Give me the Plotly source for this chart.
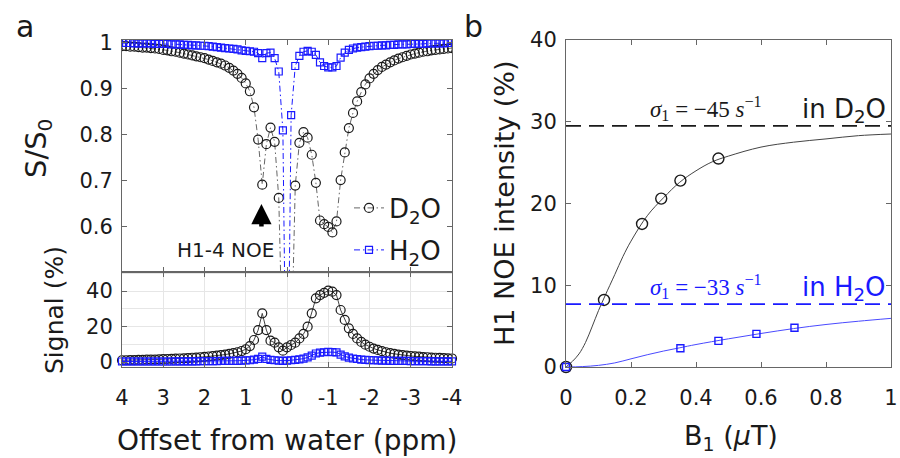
import plotly.graph_objects as go

# ---------------- data ----------------
offsets = [4.0, 3.9, 3.8, 3.7, 3.6, 3.5, 3.4, 3.3, 3.2, 3.1,
           3.0, 2.9, 2.8, 2.7, 2.6, 2.5, 2.4, 2.3, 2.2, 2.1,
           2.0, 1.9, 1.8, 1.7, 1.6, 1.5, 1.4, 1.3, 1.2, 1.1,
           1.0, 0.9, 0.8, 0.7, 0.6, 0.5, 0.4, 0.3, 0.2, 0.1,
           0.0, -0.1, -0.2, -0.3, -0.4, -0.5, -0.6, -0.7, -0.8, -0.9,
           -1.0, -1.1, -1.2, -1.3, -1.4, -1.5, -1.6, -1.7, -1.8, -1.9,
           -2.0, -2.1, -2.2, -2.3, -2.4, -2.5, -2.6, -2.7, -2.8, -2.9,
           -3.0, -3.1, -3.2, -3.3, -3.4, -3.5, -3.6, -3.7, -3.8, -3.9, -4.0]

z_d2o = [0.993, 0.993, 0.992, 0.992, 0.991, 0.990, 0.990, 0.989, 0.988, 0.987,
         0.985, 0.984, 0.982, 0.981, 0.979, 0.977, 0.975, 0.973, 0.971, 0.969,
         0.967, 0.964, 0.961, 0.958, 0.955, 0.951, 0.946, 0.940, 0.933, 0.924,
         0.912, 0.895, 0.860, 0.790, 0.692, 0.780, 0.816, 0.785, 0.663, 0.30,
         0.05, 0.30, 0.690, 0.783, 0.806, 0.794, 0.757, 0.696, 0.614, 0.606,
         0.600, 0.588, 0.612, 0.702, 0.762, 0.815, 0.848, 0.873, 0.893, 0.910,
         0.923, 0.933, 0.941, 0.948, 0.953, 0.958, 0.962, 0.966, 0.969, 0.972,
         0.975, 0.977, 0.979, 0.981, 0.982, 0.984, 0.985, 0.986, 0.987, 0.988, 0.989]

z_h2o = [1.000, 1.000, 1.000, 0.999, 0.999, 0.999, 0.999, 0.999, 0.998, 0.998,
         0.998, 0.998, 0.997, 0.997, 0.997, 0.996, 0.996, 0.995, 0.995, 0.994,
         0.994, 0.993, 0.992, 0.991, 0.990, 0.989, 0.988, 0.987, 0.986, 0.984,
         0.983, 0.982, 0.981, 0.978, 0.967, 0.978, 0.979, 0.967, 0.938, 0.810,
         0.05, 0.843, 0.950, 0.972, 0.981, 0.983, 0.981, 0.974, 0.958, 0.950,
         0.947, 0.947, 0.950, 0.968, 0.979, 0.985, 0.988, 0.990, 0.991, 0.992,
         0.993, 0.994, 0.994, 0.995, 0.995, 0.996, 0.996, 0.997, 0.997, 0.997,
         0.998, 0.998, 0.998, 0.998, 0.999, 0.999, 0.999, 0.999, 0.999, 1.000, 1.000]

sig_d2o = [1.0, 1.0, 1.1, 1.1, 1.2, 1.2, 1.3, 1.4, 1.4, 1.5,
           1.6, 1.7, 1.8, 1.9, 2.0, 2.1, 2.2, 2.4, 2.5, 2.7,
           2.9, 3.1, 3.3, 3.6, 3.9, 4.2, 4.6, 5.0, 5.5, 6.2,
           7.2, 9.0, 12.4, 18.0, 27.4, 18.0, 12.0, 10.9, 8.3, 6.4,
           8.3, 9.6, 10.9, 13.3, 15.8, 19.9, 27.4, 35.9, 37.7, 39.0,
           40.2, 39.6, 37.7, 29.3, 23.7, 19.0, 15.8, 13.3, 11.3, 9.8,
           8.6, 7.6, 6.8, 6.1, 5.5, 5.0, 4.6, 4.2, 3.9, 3.6,
           3.4, 3.2, 3.0, 2.8, 2.7, 2.5, 2.4, 2.3, 2.2, 2.1, 2.0]

sig_h2o = [0.3, 0.3, 0.3, 0.3, 0.3, 0.3, 0.3, 0.3, 0.3, 0.3,
           0.3, 0.3, 0.3, 0.4, 0.4, 0.4, 0.4, 0.4, 0.4, 0.5,
           0.5, 0.5, 0.5, 0.5, 0.6, 0.6, 0.6, 0.7, 0.7, 0.8,
           0.9, 1.0, 1.3, 1.8, 3.0, 1.8, 1.2, 1.0, 0.8, 0.6,
           0.8, 1.0, 1.2, 1.5, 1.9, 2.6, 3.6, 4.8, 5.3, 5.5,
           5.7, 5.6, 5.4, 4.2, 3.2, 2.5, 2.0, 1.7, 1.4, 1.2,
           1.1, 1.0, 0.9, 0.8, 0.8, 0.7, 0.7, 0.6, 0.6, 0.6,
           0.5, 0.5, 0.5, 0.5, 0.5, 0.4, 0.4, 0.4, 0.4, 0.4, 0.4]

b1_d2o = [0, 0.117, 0.234, 0.293, 0.352, 0.469]
noe_d2o = [0, 8.2, 17.5, 20.6, 22.8, 25.5]
b1_h2o = [0, 0.352, 0.469, 0.586, 0.703]
noe_h2o = [0, 2.3, 3.2, 4.05, 4.8]

fit_b1_d2o = [0, 0.02, 0.04, 0.06, 0.08, 0.1, 0.12, 0.15, 0.175, 0.2, 0.25, 0.3,
              0.35, 0.4, 0.45, 0.5, 0.6, 0.7, 0.8, 0.9, 1.0]
fit_noe_d2o = [0, 0.7, 1.6, 3.0, 4.9, 6.9, 8.7, 11.3, 13.5, 15.4, 18.5, 20.7,
               22.6, 24.0, 25.1, 25.8, 26.9, 27.5, 27.9, 28.3, 28.5]
fit_b1_h2o = [0, 0.05, 0.1, 0.15, 0.2, 0.25, 0.3, 0.35, 0.4, 0.5, 0.6, 0.7, 0.8, 0.9, 1.0]
fit_noe_h2o = [0, 0.05, 0.2, 0.5, 1.0, 1.5, 1.95, 2.35, 2.75, 3.45, 4.1, 4.7, 5.2, 5.6, 5.95]

plateau_d2o = 29.5
plateau_h2o = 7.7

x_ticks_ppm = [4, 3, 2, 1, 0, -1, -2, -3, -4]
x_ticktext_ppm = ["4", "3", "2", "1", "0", "-1", "-2", "-3", "-4"]
z_ticks = [0.6, 0.7, 0.8, 0.9, 1.0]
z_ticktext = ["0.6", "0.7", "0.8", "0.9", "1"]
sig_ticks = [0, 20, 40]
b1_ticks = [0, 0.2, 0.4, 0.6, 0.8, 1]
b1_ticktext = ["0", "0.2", "0.4", "0.6", "0.8", "1"]
noe_ticks = [0, 10, 20, 30, 40]

# ---------------- style ----------------
FONT = "DejaVu Sans"
BLACK = "#1a1a1a"
BLUE = "#1a1aff"
W, H = 900, 458

def px_x(p):
    return p / W

def px_y(p):
    return 1 - p / H

fig = go.Figure()

# Z-spectra (top-left)
fig.add_trace(go.Scatter(x=offsets, y=z_d2o, mode="lines+markers", name="D<sub>2</sub>O",
                         line=dict(color="#666666", width=1, dash="6px,3px,1.5px,3px"),
                         marker=dict(symbol="circle-open", size=9, color=BLACK, line=dict(width=1.2)),
                         xaxis="x", yaxis="y", legend="legend"))
fig.add_trace(go.Scatter(x=offsets, y=z_h2o, mode="lines+markers", name="H<sub>2</sub>O",
                         line=dict(color=BLUE, width=1, dash="6px,3px,1.5px,3px"),
                         marker=dict(symbol="square-open", size=7, color=BLUE, line=dict(width=1.2)),
                         xaxis="x", yaxis="y", legend="legend2"))

# NOE signal (bottom-left)
fig.add_trace(go.Scatter(x=offsets, y=sig_d2o, mode="lines+markers", showlegend=False,
                         line=dict(color="#444444", width=1),
                         marker=dict(symbol="circle-open", size=9, color=BLACK, line=dict(width=1.2)),
                         xaxis="x2", yaxis="y2", cliponaxis=False))
fig.add_trace(go.Scatter(x=offsets, y=sig_h2o, mode="lines+markers", showlegend=False,
                         line=dict(color=BLUE, width=1),
                         marker=dict(symbol="square-open", size=7, color=BLUE, line=dict(width=1.2)),
                         xaxis="x2", yaxis="y2", cliponaxis=False))

# right panel
fig.add_trace(go.Scatter(x=fit_b1_d2o, y=fit_noe_d2o, mode="lines", showlegend=False,
                         line=dict(color="#444444", width=1, shape="spline"),
                         xaxis="x3", yaxis="y3"))
fig.add_trace(go.Scatter(x=fit_b1_h2o, y=fit_noe_h2o, mode="lines", showlegend=False,
                         line=dict(color="#4a4aff", width=1, shape="spline"),
                         xaxis="x3", yaxis="y3"))
fig.add_trace(go.Scatter(x=b1_d2o, y=noe_d2o, mode="markers", showlegend=False,
                         marker=dict(symbol="circle-open", size=11, color=BLACK, line=dict(width=1.4)),
                         xaxis="x3", yaxis="y3", cliponaxis=False))
fig.add_trace(go.Scatter(x=b1_h2o, y=noe_h2o, mode="markers", showlegend=False,
                         marker=dict(symbol="square-open", size=7, color=BLUE, line=dict(width=1.4)),
                         xaxis="x3", yaxis="y3", cliponaxis=False))

# plateau dashed lines
fig.add_shape(type="line", xref="x3 domain", yref="y3", x0=0, x1=1, y0=plateau_d2o, y1=plateau_d2o,
              line=dict(color=BLACK, width=1.8, dash="15px,8px"))
fig.add_shape(type="line", xref="x3 domain", yref="y3", x0=0, x1=1, y0=plateau_h2o, y1=plateau_h2o,
              line=dict(color=BLUE, width=1.8, dash="15px,8px"))

axis_common = dict(showline=True, linecolor="#666666", linewidth=1, mirror="ticks",
                   ticks="inside", ticklen=5, tickcolor="#666666", zeroline=False,
                   showgrid=False, automargin=False, ticklabeloverflow="allow",
                   tickfont=dict(family=FONT, size=21, color=BLACK))

LX0, LX1 = px_x(122), px_x(452)
RX0, RX1 = px_x(566), px_x(891)

fig.update_layout(
    template="none",
    width=W, height=H, autosize=False,
    margin=dict(l=0, r=0, t=0, b=0, pad=0),
    paper_bgcolor="white", plot_bgcolor="white",
    font=dict(family=FONT, color=BLACK),
    xaxis=dict(axis_common, domain=[LX0, LX1], range=[4, -4], tickvals=x_ticks_ppm,
               showticklabels=False, anchor="y"),
    yaxis=dict(axis_common, domain=[px_y(272), px_y(40)], range=[0.502, 1.0065],
               tickvals=z_ticks, ticktext=z_ticktext, anchor="x", ticklabelstandoff=4),
    xaxis2=dict(axis_common, domain=[LX0, LX1], range=[4, -4], tickvals=x_ticks_ppm,
                ticktext=x_ticktext_ppm,
                anchor="y2", showgrid=True, gridcolor="#e6e6e6", ticklabelstandoff=12),
    yaxis2=dict(axis_common, domain=[px_y(367), px_y(272)], range=[-2.8, 50.7],
                tickvals=sig_ticks, anchor="x2", showgrid=True, gridcolor="#e6e6e6",
                minor=dict(dtick=10, tick0=0, showgrid=True, gridcolor="#e6e6e6", ticks=""),
                ticklabelstandoff=4),
    xaxis3=dict(axis_common, domain=[RX0, RX1], range=[0, 1], tickvals=b1_ticks,
                ticktext=b1_ticktext, anchor="y3", ticklabelstandoff=12),
    yaxis3=dict(axis_common, domain=[px_y(367), px_y(40)], range=[0, 40],
                tickvals=noe_ticks, anchor="x3", ticklabelstandoff=4),
    legend=dict(x=px_x(349), y=px_y(208), xanchor="left", yanchor="middle",
                bgcolor="rgba(255,255,255,0)", font=dict(family=FONT, size=26, color=BLACK),
                borderwidth=0),
    legend2=dict(x=px_x(349), y=px_y(250), xanchor="left", yanchor="middle",
                 bgcolor="rgba(255,255,255,0)", font=dict(family=FONT, size=26, color=BLACK),
                 borderwidth=0),
)

def label(text, x, y, size, color=BLACK, angle=0, family=FONT, xref="paper", yref="paper",
          xanchor="center"):
    return dict(text=text, x=x, y=y, xref=xref, yref=yref, showarrow=False, textangle=angle,
                xanchor=xanchor, yanchor="middle",
                font=dict(family=family, size=size, color=color))

ann = [
    label("a", px_x(25), px_y(27), 30),
    label("b", px_x(474), px_y(27), 30),
    label("S/S<sub>0</sub>", px_x(38), px_y(148), 29, angle=-90),
    label("Signal (%)", px_x(54), px_y(310), 25, angle=-90),
    label("Offset from water (ppm)", px_x(287), px_y(440), 28),
    label("H1 NOE intensity (%)", px_x(504), px_y(203), 27, angle=-90),
    label("B<sub>1</sub> (<i>μ</i>T)", px_x(731), px_y(437), 27),
    label("H1-4 NOE", 1.5, 0.55, 20, xref="x", yref="y"),
    label("<i>σ</i><sub>1</sub> = −45 <i>s</i><sup>−1</sup>", 0.43, 31.6, 23,
          family="Liberation Serif", xref="x3", yref="y3"),
    label("in D<sub>2</sub>O", 0.99, 31.4, 26, xref="x3", yref="y3", xanchor="right"),
    label("<i>σ</i><sub>1</sub> = −33 <i>s</i><sup>−1</sup>", 0.43, 9.8, 23, color=BLUE,
          family="Liberation Serif", xref="x3", yref="y3"),
    label("in H<sub>2</sub>O", 0.99, 9.6, 26, color=BLUE, xref="x3", yref="y3", xanchor="right"),
    dict(text="", x=0.62, y=0.650, xref="x", yref="y", showarrow=True, ax=0, ay=24,
         arrowhead=2, arrowsize=0.9, arrowwidth=4.5, arrowcolor="black"),
]
fig.update_layout(annotations=ann)

fig.write_html("out.html", config={"displayModeBar": False},
               post_script="document.body.style.margin='0px';")
